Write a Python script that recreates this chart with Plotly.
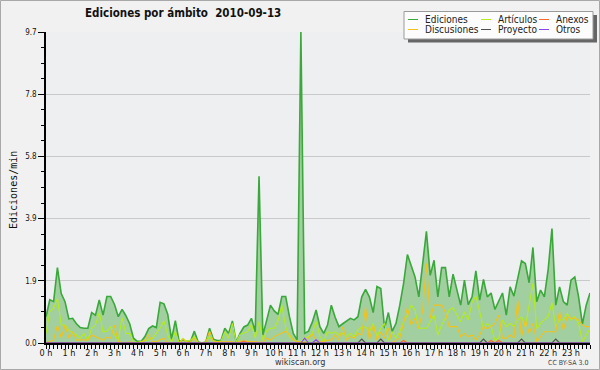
import plotly.graph_objects as go

# ---------------- data (10-minute steps, 2010-09-13) ----------------
hours = list(range(24))
hour_labels = [f"{h} h" for h in hours]
steps_per_hour = 6
n_points = 144
times = [i / steps_per_hour for i in range(n_points)]

ediciones = [
    0.82, 1.35, 1.29, 2.35, 1.54, 1.29, 0.75, 0.77, 0.60, 0.48, 0.46, 0.46,
    0.95, 0.87, 1.34, 0.87, 1.45, 1.45, 1.20, 0.82, 1.05, 0.85, 0.60, 0.15,
    0.05, 0.05, 0.20, 0.45, 0.53, 0.48, 1.27, 1.22, 0.90, 0.12, 0.70, 0.04,
    0.10, 0.05, 0.05, 0.37, 0.03, 0.00, 0.03, 0.46, 0.12, 0.08, 0.08, 0.46,
    0.30, 0.69, 0.03, 0.30, 0.50, 0.56, 0.77, 0.35, 5.20, 0.25, 0.70, 1.18,
    1.00, 0.89, 1.45, 1.45, 0.82, 0.30, 0.10, 9.70, 0.30, 0.37, 0.65, 1.03,
    0.51, 0.30, 0.56, 1.18, 0.80, 0.51, 0.60, 0.70, 0.77, 0.72, 0.82, 1.44,
    1.67, 1.44, 0.95, 1.76, 1.70, 0.46, 0.95, 0.36, 0.61, 1.18, 1.86, 2.76,
    2.43, 2.06, 1.44, 2.43, 3.48, 2.11, 2.58, 1.44, 2.35, 2.35, 1.44, 2.15,
    1.65, 1.18, 1.96, 1.20, 1.44, 2.25, 1.34, 1.98, 1.44, 1.56, 1.05, 1.32,
    1.56, 0.87, 1.75, 1.46, 2.06, 2.56, 2.48, 1.88, 2.98, 1.29, 1.65, 1.44,
    2.29, 3.57, 1.18, 1.75, 1.29, 1.18, 1.96, 2.06, 1.44, 0.59, 1.18, 1.56,
]
articulos = [
    0.30, 0.98, 1.08, 1.39, 0.56, 0.56, 0.40, 0.30, 0.25, 0.15, 0.30, 0.09,
    0.46, 0.56, 0.95, 0.35, 0.37, 0.50, 0.25, 0.09, 0.79, 0.30, 0.30, 0.04,
    0.02, 0.04, 0.06, 0.10, 0.15, 0.30, 0.46, 0.69, 0.25, 0.02, 0.37, 0.00,
    0.15, 0.04, 0.09, 0.20, 0.02, 0.00, 0.04, 0.20, 0.06, 0.04, 0.06, 0.35,
    0.15, 0.61, 0.02, 0.27, 0.30, 0.35, 0.58, 0.15, 0.67, 0.09, 0.37, 0.46,
    0.46, 0.70, 1.18, 0.50, 0.20, 0.10, 0.04, 0.04, 0.15, 0.20, 0.30, 0.67,
    0.20, 0.04, 0.35, 0.30, 0.35, 0.25, 0.30, 0.20, 0.30, 0.20, 0.40, 0.50,
    0.50, 0.35, 0.61, 0.20, 0.46, 0.61, 0.09, 0.35, 0.15, 0.35, 0.67, 0.87,
    1.18, 1.03, 0.46, 0.46, 0.46, 0.66, 0.87, 0.25, 0.56, 0.77, 1.03, 1.10,
    0.87, 0.66, 0.97, 0.72, 1.28, 1.46, 0.97, 0.45, 0.61, 0.51, 0.09, 0.15,
    0.72, 0.51, 0.61, 0.51, 0.72, 0.82, 0.51, 1.23, 1.86, 0.45, 0.61, 0.72,
    0.82, 1.25, 0.51, 0.72, 0.72, 0.92, 0.72, 0.82, 0.61, 0.04, 0.25, 0.45,
]
discusiones = [
    0.00, 0.05, 0.09, 0.56, 0.15, 0.56, 0.15, 0.35, 0.09, 0.10, 0.09, 0.09,
    0.25, 0.20, 0.15, 0.09, 0.18, 0.15, 0.56, 0.04, 0.02, 0.00, 0.04, 0.00,
    0.00, 0.00, 0.10, 0.25, 0.04, 0.04, 0.10, 0.15, 0.00, 0.00, 0.00, 0.00,
    0.12, 0.02, 0.04, 0.15, 0.00, 0.00, 0.02, 0.37, 0.06, 0.04, 0.04, 0.06,
    0.06, 0.04, 0.00, 0.06, 0.06, 0.06, 0.06, 0.04, 0.02, 0.02, 0.15, 0.09,
    0.20, 0.25, 0.30, 0.37, 0.25, 0.10, 0.04, 0.04, 0.02, 0.15, 0.27, 0.09,
    0.04, 0.04, 0.09, 0.09, 0.25, 0.09, 0.50, 0.09, 0.20, 0.15, 0.30, 0.25,
    1.13, 0.09, 0.56, 0.09, 0.35, 0.15, 0.46, 0.00, 0.09, 0.15, 0.61, 1.10,
    0.56, 0.77, 0.46, 1.00, 2.48, 0.77, 1.18, 1.18, 1.18, 0.95, 0.51, 0.51,
    0.51, 0.20, 0.30, 0.20, 0.25, 0.09, 0.25, 0.51, 0.45, 0.51, 0.61, 0.87,
    0.15, 0.15, 0.25, 0.15, 1.34, 0.20, 0.72, 0.30, 0.61, 0.04, 0.20, 0.35,
    0.35, 0.35, 0.35, 0.97, 0.40, 0.82, 0.77, 0.77, 0.72, 0.56, 0.51, 0.51,
]
anexos = [
    0, 0, 0, 0, 0, 0, 0, 0, 0, 0, 0, 0, 0, 0, 0, 0, 0, 0, 0, 0, 0, 0, 0, 0,
    0, 0, 0, 0, 0, 0, 0, 0, 0, 0, 0, 0, 0, 0, 0, 0, 0, 0, 0, 0, 0, 0, 0, 0,
    0, 0, 0, 0, 0.06, 0, 0, 0, 0, 0, 0, 0, 0, 0, 0, 0, 0, 0, 0, 0, 0, 0, 0, 0,
    0, 0, 0, 0, 0, 0, 0, 0, 0, 0, 0, 0, 0, 0, 0, 0, 0, 0, 0, 0, 0, 0, 0.08, 0,
    0, 0, 0, 0, 0, 0, 0, 0, 0, 0, 0, 0, 0, 0, 0, 0, 0, 0, 0, 0, 0, 0.08, 0, 0.08,
    0, 0, 0, 0, 0, 0, 0, 0, 0, 0, 0, 0, 0, 0, 0, 0, 0, 0, 0, 0, 0, 0,
]
proyecto = [
    0, 0, 0, 0, 0, 0, 0, 0, 0, 0, 0, 0, 0, 0, 0, 0, 0, 0, 0, 0, 0, 0, 0, 0,
    0, 0, 0, 0, 0, 0, 0, 0, 0, 0, 0, 0, 0, 0, 0, 0, 0, 0, 0, 0, 0, 0, 0, 0,
    0, 0, 0, 0, 0, 0, 0, 0, 0, 0, 0, 0, 0, 0, 0, 0, 0, 0, 0, 0, 0, 0, 0, 0,
    0, 0, 0, 0, 0, 0, 0, 0, 0, 0, 0, 0.12, 0, 0, 0, 0, 0.12, 0, 0, 0, 0, 0, 0, 0,
    0, 0, 0, 0, 0, 0, 0, 0, 0, 0, 0, 0, 0, 0, 0, 0, 0, 0, 0, 0.12, 0, 0, 0, 0,
    0, 0, 0, 0, 0, 0.12, 0, 0, 0, 0, 0, 0, 0, 0, 0.12, 0, 0, 0, 0, 0, 0, 0, 0, 0,
]
otros = [
    0, 0, 0, 0, 0, 0, 0, 0, 0, 0, 0, 0, 0, 0, 0, 0, 0, 0, 0, 0, 0, 0, 0, 0,
    0, 0, 0, 0, 0, 0, 0, 0, 0, 0, 0, 0, 0, 0, 0, 0, 0, 0, 0, 0, 0, 0, 0, 0,
    0, 0, 0, 0, 0, 0, 0, 0, 0, 0, 0, 0, 0, 0, 0, 0, 0, 0, 0, 0, 0.15, 0, 0, 0.10,
    0, 0, 0, 0, 0, 0, 0, 0, 0, 0, 0, 0, 0, 0, 0, 0, 0, 0, 0, 0, 0, 0, 0, 0,
    0, 0, 0, 0, 0, 0, 0, 0, 0, 0, 0, 0, 0, 0, 0, 0, 0, 0, 0, 0, 0, 0, 0, 0,
    0, 0, 0, 0, 0, 0, 0, 0, 0, 0, 0, 0, 0, 0, 0, 0, 0, 0, 0, 0, 0, 0, 0, 0,
]

y_tick_vals = [0, 1.94, 3.88, 5.82, 7.76, 9.7]
y_tick_text = ["0.0", "1.9", "3.9", "5.8", "7.8", "9.7"]

# ---------------- styling ----------------
W, H = 600, 370
ML, MR, MT, MB = 46, 10, 32, 27
PW, PH = W - ML - MR, H - MT - MB
FONT = "DejaVu Sans Condensed, DejaVu Sans, sans-serif"

series = [
    ("Ediciones", ediciones, "#3aa83a", 1.6),
    ("Artículos", articulos, "#b4ec1c", 1.1),
    ("Discusiones", discusiones, "#f2c21a", 1.1),
    ("Anexos", anexos, "#ff6a2a", 1.1),
    ("Proyecto", proyecto, "#505050", 1.1),
    ("Otros", otros, "#8a44ee", 1.1),
]


def px_to_paper(px, py):
    return (px - ML) / PW, (H - MB - py) / PH


fig = go.Figure()
for name, vals, color, lw in series:
    kw = {}
    if name == "Ediciones":
        kw = dict(fill="tozeroy", fillcolor="#a2cf9f")
    fig.add_trace(go.Scatter(
        x=times, y=vals, name=name, mode="lines",
        line=dict(color=color, width=lw), showlegend=False, **kw))

shapes = []
annotations = []

# whole-figure border
x0, y0 = px_to_paper(0.5, 0.5)
x1, y1 = px_to_paper(W - 0.5, H - 0.5)
shapes.append(dict(type="rect", xref="paper", yref="paper", x0=x0, y0=y0, x1=x1, y1=y1,
                   line=dict(color="#a8a8a8", width=1), layer="below"))

# legend box with shadow
sx0, sy0 = px_to_paper(408, 15)
sx1, sy1 = px_to_paper(597, 42.5)
shapes.append(dict(type="rect", xref="paper", yref="paper", x0=sx0, y0=sy0, x1=sx1, y1=sy1,
                   line=dict(width=0), fillcolor="#666666", layer="above"))
bx0, by0 = px_to_paper(404, 11.5)
bx1, by1 = px_to_paper(593, 39)
shapes.append(dict(type="rect", xref="paper", yref="paper", x0=bx0, y0=by0, x1=bx1, y1=by1,
                   line=dict(color="#9a9a9a", width=1), fillcolor="#fcfcfc", layer="above"))

legend_layout = [
    ("Ediciones", 408, 19.5), ("Artículos", 481, 19.5), ("Anexos", 539, 19.5),
    ("Discusiones", 408, 29.5), ("Proyecto", 481, 29.5), ("Otros", 539, 29.5),
]
colors = {s[0]: s[2] for s in series}
for name, lx, ly in legend_layout:
    ax0, ay = px_to_paper(lx, ly)
    ax1, _ = px_to_paper(lx + 10, ly)
    shapes.append(dict(type="line", xref="paper", yref="paper", x0=ax0, x1=ax1, y0=ay, y1=ay,
                       line=dict(color=colors[name], width=1), layer="above"))
    tx, ty = px_to_paper(lx + 15, ly)
    annotations.append(dict(text=name, xref="paper", yref="paper", x=tx, y=ty,
                            xanchor="left", yanchor="middle", showarrow=False,
                            font=dict(family=FONT, size=10, color="#222222")))

# y-axis title
ytx, yty = px_to_paper(13, 190)
annotations.append(dict(text="Ediciones/min", xref="paper", yref="paper", x=ytx, y=yty,
                        textangle=-90, showarrow=False, xanchor="center", yanchor="middle",
                        font=dict(family="DejaVu Sans Mono, monospace", size=10, color="#111111")))
# footer texts
fx, fy = px_to_paper(300, 362)
annotations.append(dict(text="wikiscan.org", xref="paper", yref="paper", x=fx, y=fy,
                        showarrow=False, xanchor="center", yanchor="middle",
                        font=dict(family=FONT, size=9, color="#333333")))
cx, cy = px_to_paper(590, 363)
annotations.append(dict(text="CC BY-SA 3.0", xref="paper", yref="paper", x=cx, y=cy,
                        showarrow=False, xanchor="right", yanchor="middle",
                        font=dict(family=FONT, size=7, color="#444444")))

fig.update_layout(
    width=W, height=H,
    margin=dict(l=ML, r=MR, t=MT, b=MB, pad=0),
    paper_bgcolor="#f1f1f1",
    plot_bgcolor="#edeff1",
    title=dict(text="Ediciones por ámbito  2010-09-13", x=85 / W, xanchor="left",
               y=1 - 13 / H, yanchor="middle", xref="container", yref="container",
               font=dict(family=FONT, size=11.5, color="#111111", weight="bold")),
    shapes=shapes,
    annotations=annotations,
    showlegend=False,
    xaxis=dict(
        range=[0, (n_points - 1) / steps_per_hour],
        tickmode="array", tickvals=hours, ticktext=hour_labels,
        ticks="outside", ticklen=4, tickwidth=1, tickcolor="#000000",
        ticklabelstandoff=-4,
        showline=True, linecolor="#000000", linewidth=1.5,
        showgrid=False, zeroline=False,
        tickfont=dict(family=FONT, size=9, color="#111111"),
        minor=dict(tickmode="linear", tick0=0, dtick=1 / steps_per_hour, ticks="outside",
                   ticklen=4, tickcolor="#000000", tickwidth=1, showgrid=False),
    ),
    yaxis=dict(
        range=[0, 9.7],
        tickmode="array", tickvals=y_tick_vals, ticktext=y_tick_text,
        ticks="outside", ticklen=6, tickwidth=1, tickcolor="#000000",
        showline=True, linecolor="#000000", linewidth=1.5,
        showgrid=True, gridcolor="#c9c9c9", gridwidth=1, zeroline=False,
        tickfont=dict(family=FONT, size=8, color="#111111"),
        minor=dict(tickmode="linear", tick0=0, dtick=9.7 / 20, ticks="outside",
                   ticklen=3, tickcolor="#000000", tickwidth=1, showgrid=False),
    ),
)

fig.write_html(
    "out.html",
    config={"displayModeBar": False},
    post_script="document.body.style.margin='0';document.body.style.overflow='hidden';",
)
